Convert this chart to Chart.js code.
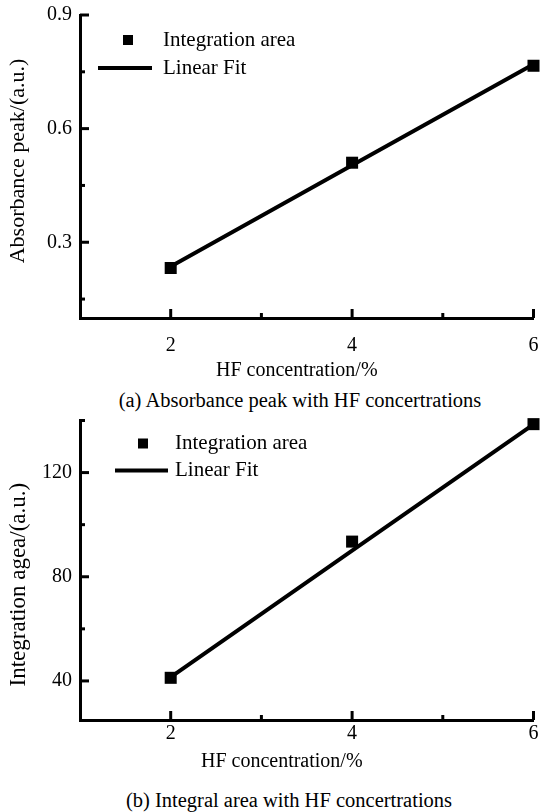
<!DOCTYPE html>
<html lang="en">
<head>
    <meta charset="UTF-8">
    <title>HF concentration</title>
    <script src="https://cdn.jsdelivr.net/npm/chart.js"></script>
    <style>
        html, body { margin: 0; padding: 0; background: #fff; }
        #wrap { width: 542px; height: 812px; position: relative; overflow: hidden; }
        .box { position: absolute; left: 0; width: 542px; }
        .caption {
            position: absolute; left: 0; text-align: center; white-space: nowrap;
            font: 20.5px "Liberation Serif", "Times New Roman", serif; color: #000;
            line-height: 24px;
        }
    </style>
</head>
<body>
    <div id="wrap">
        <div class="box" style="top:0;height:388px"><canvas id="chartA"></canvas></div>
        <div class="caption" style="top:388px;width:600px">(a) Absorbance peak with HF concertrations</div>
        <div class="box" style="top:412px;height:376px"><canvas id="chartB"></canvas></div>
        <div class="caption" style="top:788px;width:578px">(b) Integral area with HF concertrations</div>
    </div>

    <script>
        // values
        const hf = [2, 4, 6];
        const peakA = [0.232, 0.51, 0.766];
        const fitA = [0.236, 0.503, 0.770];
        const areaB = [41.2, 93.5, 138.6];
        const fitB = [41.5, 90, 138.5];

        const xTicks = [2, 3, 4, 5, 6];
        const xLabels = ['2', '', '4', '', '6'];
        const yTicksA = [0.15, 0.3, 0.45, 0.6, 0.75, 0.9];
        const yLabelsA = ['', '0.3', '', '0.6', '', '0.9'];
        const yTicksB = [40, 60, 80, 100, 120, 140];
        const yLabelsB = ['40', '', '80', '', '120', ''];

        const SERIF = '"Liberation Serif", "Times New Roman", serif';
        const FONT = { family: SERIF, size: 20 };

        // inward tick marks, long for labelled ticks, short for the others
        const tickMarks = {
            id: 'tickMarks',
            afterDatasetsDraw(chart) {
                const ctx = chart.ctx;
                const area = chart.chartArea;
                ctx.save();
                ctx.strokeStyle = '#000';
                ctx.lineWidth = 3;
                Object.values(chart.scales).forEach(scale => {
                    scale.ticks.forEach(t => {
                        const major = t.label !== '' && t.label !== undefined;
                        const len = major ? 9 : 5;
                        const p = scale.getPixelForValue(t.value);
                        ctx.beginPath();
                        if (scale.isHorizontal()) {
                            ctx.moveTo(p, area.bottom);
                            ctx.lineTo(p, area.bottom - len);
                        } else {
                            ctx.moveTo(area.left, p);
                            ctx.lineTo(area.left + len, p);
                        }
                        ctx.stroke();
                    });
                });
                ctx.restore();
            }
        };

        // legend drawn inside the plot, top left
        const innerLegend = {
            id: 'innerLegend',
            afterDraw(chart, args, opts) {
                const ctx = chart.ctx;
                const a = chart.chartArea;
                const ds = chart.data.datasets;
                ctx.save();
                ctx.fillStyle = '#000';
                ctx.fillRect(a.left + opts.mx - 5, a.top + opts.my - 5, 10, 10);
                ctx.strokeStyle = '#000';
                ctx.lineWidth = 4;
                ctx.beginPath();
                ctx.moveTo(a.left + opts.l1, a.top + opts.ly);
                ctx.lineTo(a.left + opts.l2, a.top + opts.ly);
                ctx.stroke();
                ctx.font = '21px ' + SERIF;
                ctx.textBaseline = 'middle';
                ctx.fillText(ds[0].label, a.left + opts.tx, a.top + opts.my);
                ctx.fillText(ds[1].label, a.left + opts.tx, a.top + opts.ly);
                ctx.restore();
            }
        };

        function makeChart(id, yVals, fitVals, yTicks, yLabels, cfg) {
            const labelsOf = (list) => (v, i) => list[i];
            return new Chart(document.getElementById(id), {
                type: 'scatter',
                data: {
                    datasets: [
                        {
                            label: 'Integration area',
                            data: hf.map((x, i) => ({ x: x, y: yVals[i] })),
                            pointStyle: 'rect',
                            pointRadius: 8.5,
                            pointBorderWidth: 0,
                            backgroundColor: '#000',
                            borderColor: '#000',
                            clip: false
                        },
                        {
                            label: 'Linear Fit',
                            data: hf.map((x, i) => ({ x: x, y: fitVals[i] })),
                            showLine: true,
                            pointRadius: 0,
                            borderWidth: 4,
                            borderColor: '#000',
                            clip: false
                        }
                    ]
                },
                options: {
                    responsive: true,
                    maintainAspectRatio: false,
                    animation: false,
                    layout: { padding: { top: cfg.top, right: 0, left: 0, bottom: 0 } },
                    plugins: {
                        legend: { display: false },
                        tooltip: { enabled: false },
                        innerLegend: cfg.legend
                    },
                    scales: {
                        x: {
                            type: 'linear',
                            min: 1,
                            max: 6,
                            afterBuildTicks: s => { s.ticks = xTicks.map(v => ({ value: v })); },
                            afterFit: s => { s.height = cfg.xHeight; s.paddingRight = 5; s.paddingLeft = 0; },
                            ticks: {
                                autoSkip: false,
                                maxRotation: 0,
                                padding: cfg.xPad,
                                color: '#000',
                                font: FONT,
                                callback: labelsOf(xLabels)
                            },
                            grid: { drawOnChartArea: false, drawTicks: false },
                            border: { display: true, color: '#000', width: 3 },
                            title: {
                                display: true,
                                text: cfg.xTitle,
                                color: '#000',
                                font: FONT,
                                padding: { top: 0, bottom: cfg.xTitlePad }
                            }
                        },
                        y: {
                            type: 'linear',
                            min: cfg.yMin,
                            max: cfg.yMax,
                            afterBuildTicks: s => { s.ticks = yTicks.map(v => ({ value: v })); },
                            afterFit: s => { s.width = 80; s.paddingTop = 0; s.paddingBottom = 0; },
                            ticks: {
                                autoSkip: false,
                                padding: 8,
                                color: '#000',
                                font: FONT,
                                callback: labelsOf(yLabels)
                            },
                            grid: { drawOnChartArea: false, drawTicks: false },
                            border: { display: true, color: '#000', width: 3 },
                            title: {
                                display: true,
                                text: cfg.yTitle,
                                color: '#000',
                                font: { family: SERIF, size: cfg.yTitleSize },
                                padding: { top: 5, bottom: 0 }
                            }
                        }
                    }
                },
                plugins: [tickMarks, innerLegend]
            });
        }

        makeChart('chartA', peakA, fitA, yTicksA, yLabelsA, {
            top: 15, yMin: 0.1, yMax: 0.9, xHeight: 70, xPad: 16, xTitlePad: 5,
            xTitle: 'HF concentration/%    ',
            yTitle: '  Absorbance peak/(a.u.)', yTitleSize: 22,
            legend: { mx: 48, my: 25, tx: 83, l1: 18, l2: 72, ly: 53 }
        });

        makeChart('chartB', areaB, fitB, yTicksB, yLabelsB, {
            top: 6, yMin: 25, yMax: 140, xHeight: 68, xPad: 2, xTitlePad: 14,
            xTitle: 'HF concentration/%          ',
            yTitle: 'Integration agea/(a.u.)     ', yTitleSize: 23,
            legend: { mx: 63, my: 23, tx: 95, l1: 35, l2: 88, ly: 50 }
        });
    </script>
</body>
</html>
